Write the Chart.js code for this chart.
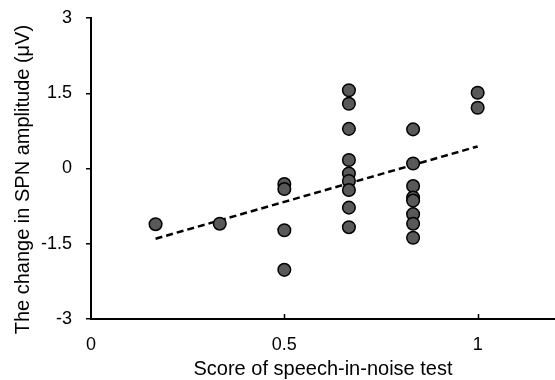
<!DOCTYPE html>
<html>
<head>
<meta charset="utf-8">
<script src="https://cdn.jsdelivr.net/npm/chart.js@4"></script>
<style>
  html, body { margin: 0; padding: 0; background: #fff; overflow: hidden; }
  #wrap { width: 555px; height: 380px; }
</style>
</head>
<body>
<div id="wrap"><canvas id="scatter"></canvas></div>
<script>
// scores (x) and amplitude changes (y)
const scoreValues = [0.167, 0.333,
  0.5, 0.5, 0.5, 0.5,
  0.667, 0.667, 0.667, 0.667, 0.667, 0.667, 0.667, 0.667, 0.667,
  0.833, 0.833, 0.833, 0.833, 0.833, 0.833, 0.833, 0.833,
  1, 1];
const spnChange = [-1.11, -1.10,
  -0.31, -0.41, -1.23, -2.02,
  1.56, 1.29, 0.79, 0.17, -0.10, -0.25, -0.43, -0.78, -1.17,
  0.78, 0.10, -0.35, -0.58, -0.64, -0.91, -1.10, -1.38,
  1.51, 1.21];
const trendX = [0.167, 1];
const trendY = [-1.40, 0.44];
const xTicks = [0, 0.5, 1];
const yTicks = [-3, -1.5, 0, 1.5, 3];

const points = scoreValues.map(function (x, i) { return { x: x, y: spnChange[i] }; });
const trend = trendX.map(function (x, i) { return { x: x, y: trendY[i] }; });

const fontFamily = "'Liberation Sans', Arial, sans-serif";

// x-axis tick marks point up into the plot
const innerTicks = {
  id: "innerTicks",
  afterDraw: function (chart) {
    const ctx = chart.ctx;
    const xs = chart.scales.x;
    const bottom = chart.chartArea.bottom;
    ctx.save();
    ctx.strokeStyle = "#000";
    ctx.lineWidth = 1.5;
    xTicks.forEach(function (v) {
      if (v === 0) return;
      const px = Math.round(xs.getPixelForValue(v)) + 0.5;
      ctx.beginPath();
      ctx.moveTo(px, bottom);
      ctx.lineTo(px, bottom - 5);
      ctx.stroke();
    });
    ctx.restore();
  }
};

new Chart(document.getElementById("scatter"), {
  type: "scatter",
  data: {
    datasets: [
      {
        type: "line",
        data: trend,
        borderColor: "#000",
        borderWidth: 2.5,
        borderDash: [7, 4],
        pointRadius: 0,
        fill: false,
        order: 2
      },
      {
        data: points,
        backgroundColor: "#595959",
        borderColor: "#000",
        borderWidth: 1.5,
        pointRadius: 6.3,
        order: 1
      }
    ]
  },
  options: {
    responsive: true,
    maintainAspectRatio: false,
    animation: false,
    layout: { autoPadding: false, padding: { top: 18, right: 0, bottom: 0, left: 0 } },
    plugins: {
      legend: { display: false },
      tooltip: { enabled: false }
    },
    scales: {
      x: {
        type: "linear",
        min: 0,
        max: 1.2,
        afterBuildTicks: function (scale) {
          scale.ticks = xTicks.map(function (v) { return { value: v }; });
        },
        afterFit: function (scale) {
          scale.height = 61;
          scale.paddingLeft = 0;
          scale.paddingRight = 0;
        },
        grid: { display: false, drawTicks: false },
        border: { display: true, color: "#000", width: 2 },
        ticks: {
          padding: 15,
          color: "#000",
          maxRotation: 0,
          font: { family: fontFamily, size: 18 },
          callback: function (v) { return String(v); }
        },
        title: {
          display: true,
          text: "Score of speech-in-noise test",
          color: "#000",
          font: { family: fontFamily, size: 20 },
          padding: { top: 0, bottom: -1 }
        }
      },
      y: {
        type: "linear",
        min: -3,
        max: 3,
        afterBuildTicks: function (scale) {
          scale.ticks = yTicks.map(function (v) { return { value: v }; });
        },
        afterFit: function (scale) {
          scale.width = 91;
          scale.paddingTop = 0;
          scale.paddingBottom = 0;
        },
        grid: {
          drawOnChartArea: false,
          drawTicks: true,
          tickLength: 5,
          color: "#000",
          lineWidth: 1.5
        },
        border: { display: true, color: "#000", width: 2 },
        ticks: {
          padding: 14,
          color: "#000",
          font: { family: fontFamily, size: 18 },
          callback: function (v) { return String(v); }
        },
        title: {
          display: true,
          text: "The change in SPN amplitude (\u03bcV)    ",
          color: "#000",
          font: { family: fontFamily, size: 20 },
          padding: { top: 11, bottom: 0 }
        }
      }
    }
  },
  plugins: [innerTicks]
});
</script>
</body>
</html>
